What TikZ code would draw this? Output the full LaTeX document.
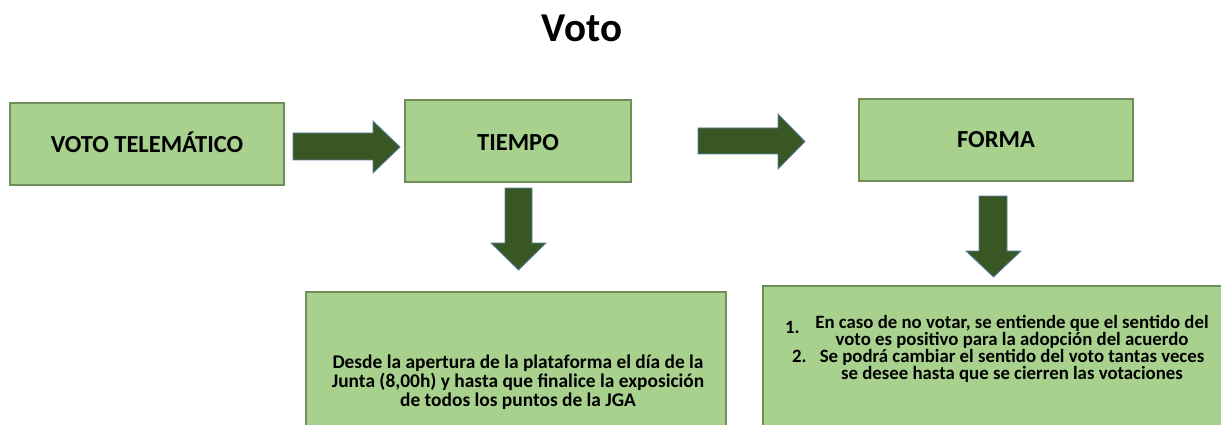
\documentclass[tikz,border=0pt]{standalone}
\usepackage{fontspec}
\setmainfont{Carlito}
\definecolor{boxfill}{HTML}{A9D18E}
\definecolor{boxline}{HTML}{6F8F58}
\definecolor{arrfill}{HTML}{385723}
\definecolor{arrline}{HTML}{5A7FA8}
\tikzset{
  gbox/.style={draw=boxline, fill=boxfill, line width=1.2pt},
  blockarrow/.style={draw=arrline, fill=arrfill, line width=0.8pt, line join=miter},
  lbl/.style={font=\bfseries\fontsize{24.5}{28}\selectfont, inner sep=0pt, anchor=base},
  body/.style={font=\bfseries\fontsize{19.4}{19}\selectfont, align=center, inner sep=0pt},
  small/.style={font=\bfseries\fontsize{18.8}{15}\selectfont, align=center, inner sep=0pt}
}
\begin{document}
\begin{tikzpicture}[x=1pt,y=-1pt]
\useasboundingbox (0,0) rectangle (1221,425);
\clip (0,0) rectangle (1221,425);
% title
\node[font=\bfseries\fontsize{41}{44}\selectfont, inner sep=0pt, anchor=base] (title) at (582,42) {Voto};
% top boxes
\draw[gbox] (10,103) rectangle (284,185);
\node[lbl] (vt) at (147,153) {VOTO TELEMÁTICO};
\draw[gbox] (405,100) rectangle (631,182);
\node[lbl] (tiempo) at (518,150) {TIEMPO};
\draw[gbox] (859,99) rectangle (1133,181);
\node[lbl] (forma) at (996,148) {FORMA};
% bottom boxes
\draw[gbox] (306,292) rectangle (726,440);
\node[body] (desde) at (518,382) {Desde la apertura de la plataforma el día de la\\Junta (8,00h) y hasta que finalice la exposición\\de todos los puntos de la JGA};
\draw[gbox] (763,286) rectangle (1240,440);
\node[small] (lista) at (1012,349) {En caso de no votar, se entiende que el sentido del\\voto es positivo para la adopción del acuerdo\\Se podrá cambiar el sentido del voto tantas veces\\se desee hasta que se cierren las votaciones};
\node[small, anchor=west] (n1) at (785,327) {1.};
\node[small, anchor=west] (n2) at (792,356) {2.};
% block arrows
\draw[blockarrow] (293,133) -- (373,133) -- (373,121) -- (400,147) -- (373,173) -- (373,160) -- (293,160) -- cycle;
\draw[blockarrow] (698,128) -- (778,128) -- (778,114) -- (805,141.5) -- (778,169) -- (778,154) -- (698,154) -- cycle;
\draw[blockarrow] (505,188) -- (532,188) -- (532,243) -- (546,243) -- (518.5,270) -- (491,243) -- (505,243) -- cycle;
\draw[blockarrow] (979,196) -- (1007,196) -- (1007,251) -- (1021,251) -- (993.5,277) -- (966,251) -- (979,251) -- cycle;
\end{tikzpicture}
\end{document}
